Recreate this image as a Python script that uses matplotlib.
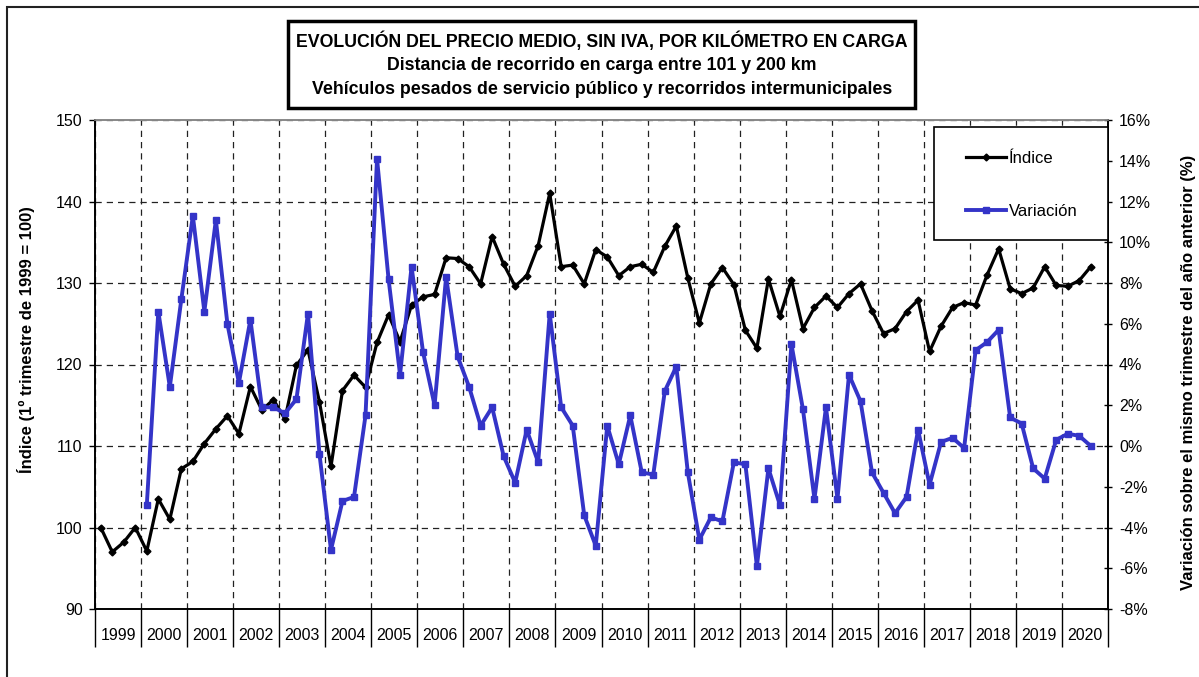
import matplotlib.pyplot as plt
from matplotlib.patches import Rectangle
from matplotlib.ticker import FixedLocator, NullFormatter, FuncFormatter
import numpy as np

plt.rcParams['font.family'] = ['Liberation Sans', 'DejaVu Sans']

# Datos trimestrales (1999 T1 - 2020 T3)
years = [str(y) for y in range(1999, 2021)]

indice = [
    100.0, 97.0, 98.2, 100.0,     # 1999
    97.1, 103.5, 101.0, 107.2,    # 2000
    108.1, 110.3, 112.1, 113.7,   # 2001
    111.5, 117.3, 114.4, 115.7,   # 2002
    113.3, 119.9, 121.8, 115.4,   # 2003
    107.5, 116.8, 118.7, 117.2,   # 2004
    122.7, 126.1, 122.8, 127.3,   # 2005
    128.3, 128.6, 133.1, 133.0,   # 2006
    132.0, 129.9, 135.7, 132.3,   # 2007
    129.6, 130.9, 134.6, 141.0,   # 2008
    132.0, 132.2, 129.9, 134.1,   # 2009
    133.2, 130.9, 132.0, 132.3,   # 2010
    131.3, 134.5, 137.0, 130.6,   # 2011
    125.1, 129.9, 131.9, 129.8,   # 2012
    124.2, 122.0, 130.5, 125.9,   # 2013
    130.4, 124.4, 127.0, 128.4,   # 2014
    127.0, 128.7, 129.9, 126.6,   # 2015
    123.8, 124.4, 126.5, 127.9,   # 2016
    121.6, 124.7, 127.0, 127.6,   # 2017
    127.3, 131.0, 134.2, 129.3,   # 2018
    128.7, 129.4, 132.0, 129.7,   # 2019
    129.6, 130.3, 132.0,          # 2020
]

# Variacion interanual (%) desde 2000 T1
variacion = [
    -2.9, 6.6, 2.9, 7.2,
    11.3, 6.6, 11.1, 6.0,
    3.1, 6.2, 1.9, 1.9,
    1.6, 2.3, 6.5, -0.4,
    -5.1, -2.7, -2.5, 1.5,
    14.1, 8.2, 3.5, 8.8,
    4.6, 2.0, 8.3, 4.4,
    2.9, 1.0, 1.9, -0.5,
    -1.8, 0.8, -0.8, 6.5,
    1.9, 1.0, -3.4, -4.9,
    1.0, -0.9, 1.5, -1.3,
    -1.4, 2.7, 3.9, -1.3,
    -4.6, -3.5, -3.7, -0.8,
    -0.9, -5.9, -1.1, -2.9,
    5.0, 1.8, -2.6, 1.9,
    -2.6, 3.5, 2.2, -1.3,
    -2.3, -3.3, -2.5, 0.8,
    -1.9, 0.2, 0.4, -0.1,
    4.7, 5.1, 5.7, 1.4,
    1.1, -1.1, -1.6, 0.3,
    0.6, 0.5, 0.0,
]

W, H = 1199, 677
fig = plt.figure(figsize=(W / 100, H / 100), dpi=100)

# plot area in pixels
L, R, T, B = 95, 1108, 120, 609
ax = fig.add_axes([L / W, 1 - B / H, (R - L) / W, (B - T) / H])
ax2 = ax.twinx()

n_years = len(years)
x_ind = np.arange(len(indice)) + 0.5
x_var = np.arange(len(variacion)) + 4.5

blue = '#3434c8'
ax.plot(x_ind, indice, color='black', lw=2.3, marker='D', ms=3.5, label='Índice', zorder=3)
ax2.plot(x_var, variacion, color=blue, lw=2.8, marker='s', ms=5, label='Variación', zorder=3)

ax.set_xlim(0, 4 * n_years)
ax.set_ylim(90, 150)
ax2.set_ylim(-8, 16)

# x axis: year boundaries as long ticks, labels centered
ax.xaxis.set_major_locator(FixedLocator(np.arange(0, 4 * n_years + 1, 4)))
ax.xaxis.set_major_formatter(NullFormatter())
ax.xaxis.set_minor_locator(FixedLocator(np.arange(2, 4 * n_years, 4)))
ax.set_xticklabels(years, minor=True)
ax.tick_params(axis='x', which='major', direction='out', length=27, width=1, color='black')
ax.tick_params(axis='x', which='minor', length=0, pad=14, labelsize=11.5)

ax.set_yticks(np.arange(90, 151, 10))
ax.tick_params(axis='y', direction='out', length=4, width=1, pad=5, labelsize=11.5)

ax2.set_yticks(np.arange(-8, 17, 2))
ax2.yaxis.set_major_formatter(FuncFormatter(lambda v, p: f'{v:.0f}%'))
ax2.tick_params(axis='y', direction='inout', length=6, width=1, pad=5, labelsize=11.5)

dash = (0, (5, 4))
ax.grid(True, which='major', axis='both', color='#222222', lw=0.9, linestyle=dash)
ax.set_axisbelow(True)

for a in (ax, ax2):
    for s in a.spines.values():
        s.set_linewidth(1.2)
        s.set_color('black')
    a.spines['top'].set_color('#888888')

# axis titles
fig.text(26 / W, 1 - 340 / H, 'Índice (1º trimestre de 1999 = 100)', rotation=90,
         ha='center', va='center', fontsize=12, fontweight='bold')
fig.text(1188 / W, 1 - 372 / H, 'Variación sobre el mismo trimestre del año anterior (%)',
         rotation=90, ha='center', va='center', fontsize=12, fontweight='bold')

# title box
fig.patches.append(Rectangle((288 / W, 1 - 108 / H), (915 - 288) / W, (108 - 21) / H,
                             transform=fig.transFigure, fill=False, lw=2.5, ec='black'))
fig.text(602 / W, 1 - 41 / H, 'EVOLUCIÓN DEL PRECIO MEDIO, SIN IVA, POR KILÓMETRO EN CARGA',
         ha='center', va='center', fontsize=12.8, fontweight='bold')
fig.text(602 / W, 1 - 66 / H, 'Distancia de recorrido en carga entre 101 y 200 km',
         ha='center', va='center', fontsize=12.8, fontweight='bold')
fig.text(602 / W, 1 - 89 / H, 'Vehículos pesados de servicio público y recorridos intermunicipales',
         ha='center', va='center', fontsize=12.8, fontweight='bold')

# outer frame (cut at right and bottom)
fig.patches.append(Rectangle((7 / W, -0.05), 1.1, 1 - 7 / H + 0.05,
                             transform=fig.transFigure, fill=False, lw=1.5, ec='#222222'))

# legend box
box = Rectangle((934 / W, 1 - 240 / H), (R - 934) / W, (240 - 127) / H,
                transform=fig.transFigure, fc='white', ec='black', lw=1.2,
                zorder=5, clip_on=False)
ax2.add_artist(box)
h1, l1 = ax.get_legend_handles_labels()
h2, l2 = ax2.get_legend_handles_labels()
leg = ax2.legend(h1 + h2, l1 + l2, loc='center', bbox_to_anchor=(1022 / W, 1 - 185 / H),
                 bbox_transform=fig.transFigure, frameon=False, fontsize=12,
                 handlelength=2.4, handletextpad=0.2, labelspacing=2.3, markerscale=1.0)
leg.set_zorder(6)

fig.savefig('out.png', dpi=100)
